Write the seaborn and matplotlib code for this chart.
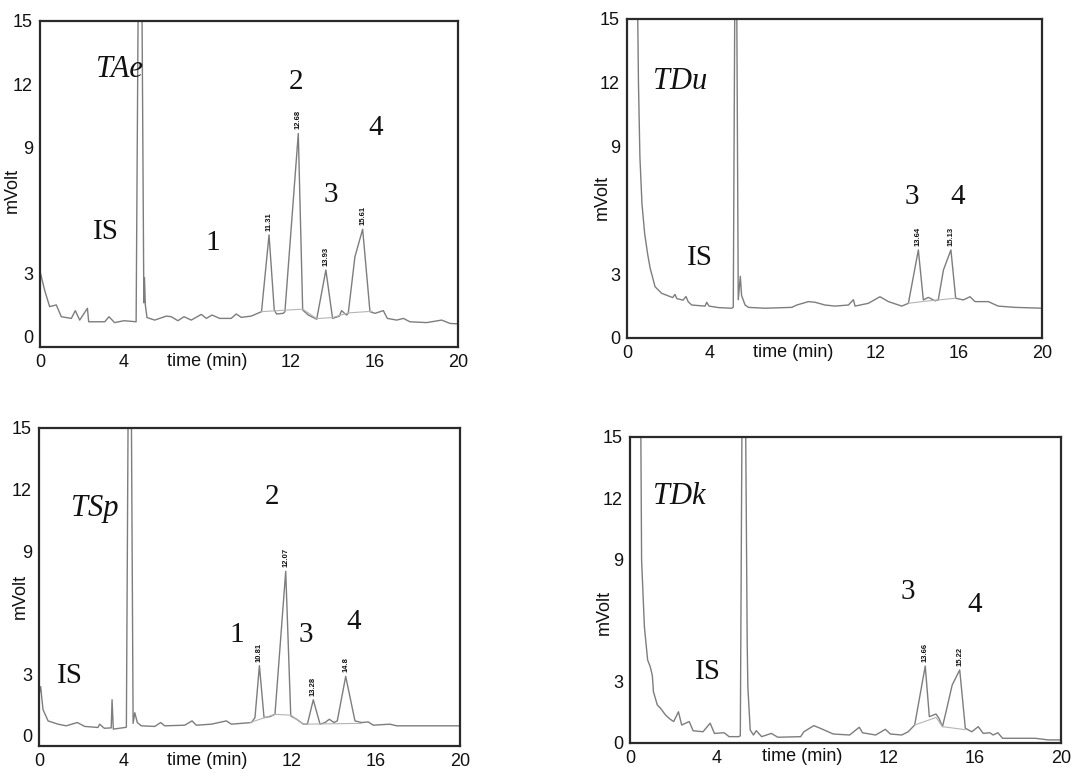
import matplotlib
matplotlib.use("Agg")
import matplotlib.pyplot as plt
import seaborn as sns
import pandas as pd
from matplotlib.ticker import MultipleLocator

# ------------------------------------------------------------------ data
# TAe chromatogram (time in min, signal in mV)
tae_time = [0.00, 0.22, 0.46, 0.78, 1.02, 1.50, 1.69, 1.90, 2.27, 2.33, 3.10, 3.30, 3.57, 4.02,
            4.60, 4.79, 4.97, 5.00, 5.04, 5.12, 5.49, 6.05, 6.28, 6.60, 6.89, 7.24, 7.72, 7.96,
            8.23, 8.60, 9.15, 9.39, 9.63, 10.11, 10.60, 10.96, 11.21, 11.32, 11.64, 11.72, 12.36,
            12.57, 12.84, 13.24, 13.68, 14.00, 14.33, 14.43, 14.67, 14.75, 15.07, 15.44, 15.79,
            16.03, 16.43, 16.62, 17.07, 17.39, 17.70, 18.50, 19.22, 19.62, 20.00]
tae_mv = [3.10, 2.21, 1.42, 1.50, 0.94, 0.86, 1.23, 0.78, 1.34, 0.70, 0.70, 0.94, 0.66, 0.75,
          0.70, 30.0, 1.60, 2.80, 1.50, 0.90, 0.78, 0.97, 0.94, 0.75, 0.94, 0.78, 1.05, 0.86,
          1.02, 0.86, 0.86, 1.07, 0.91, 0.97, 1.18, 4.83, 1.26, 1.07, 1.10, 1.18, 9.65,
          1.26, 1.02, 0.82, 3.16, 0.86, 0.97, 1.23, 1.02, 1.10, 3.79, 5.10, 1.18,
          1.10, 1.23, 0.86, 0.78, 0.86, 0.70, 0.66, 0.78, 0.62, 0.60]
tae_base_time = [10.60, 11.72, 12.57, 13.24, 14.00, 14.75, 15.90]
tae_base_mv = [1.18, 1.25, 1.30, 0.85, 0.90, 1.12, 1.20]
tae_peak_time = [10.96, 12.36, 13.68, 15.44]
tae_peak_mv = [4.83, 9.65, 3.16, 5.10]
tae_peak_rt = ["11.31", "12.68", "13.93", "15.61"]

# TDu chromatogram
tdu_time = [0.40, 0.55, 0.62, 0.72, 0.85, 1.00, 1.11, 1.35, 1.67, 2.20, 2.31, 2.40, 2.70, 2.84,
            2.95, 3.12, 3.76, 3.84, 3.95, 4.40, 5.04, 5.12, 5.24, 5.36, 5.46, 5.52, 5.69, 5.85,
            6.65, 7.94, 8.18, 8.74, 9.06, 9.54, 10.02, 10.67, 10.91, 10.99, 11.63, 12.19, 12.60,
            13.24, 13.56, 14.04, 14.28, 14.52, 14.84, 15.00, 15.25, 15.61, 15.84, 16.21, 16.53,
            16.77, 17.41, 17.89, 18.70, 20.00]
tdu_mv = [25.0, 12.0, 8.5, 6.3, 4.9, 3.9, 3.3, 2.41, 2.10, 1.90, 2.05, 1.85, 1.78, 1.95,
          1.70, 1.55, 1.50, 1.68, 1.50, 1.43, 1.40, 1.45, 25.0, 1.80, 2.90, 2.00, 1.55, 1.44,
          1.40, 1.44, 1.55, 1.71, 1.68, 1.55, 1.50, 1.55, 1.80, 1.50, 1.63, 1.94, 1.71,
          1.50, 1.63, 4.14, 1.79, 1.91, 1.75, 1.79, 3.20, 4.14, 1.87, 1.79, 1.94,
          1.71, 1.71, 1.50, 1.44, 1.40]
tdu_base_time = [13.56, 14.28, 15.00, 15.84]
tdu_base_mv = [1.63, 1.72, 1.79, 1.87]
tdu_peak_time = [14.04, 15.61]
tdu_peak_mv = [4.14, 4.14]
tdu_peak_rt = ["13.64", "15.13"]

# TSp chromatogram
tsp_time = [0.00, 0.08, 0.12, 0.19, 0.43, 0.90, 1.29, 1.82, 2.17, 2.80, 2.88, 3.10, 3.43, 3.47,
            3.53, 4.10, 4.15, 4.31, 4.47, 4.55, 4.67, 4.86, 5.50, 5.78, 5.97, 6.92, 7.27, 7.47,
            8.19, 8.90, 9.14, 10.09, 10.26, 10.47, 10.69, 10.97, 11.21, 11.72, 11.96, 12.24,
            12.56, 12.75, 13.03, 13.35, 13.59, 13.79, 14.01, 14.17, 14.57, 15.01, 15.33, 15.64,
            15.88, 16.67, 16.99, 20.00]
tsp_mv = [2.00, 2.39, 1.95, 1.27, 0.72, 0.56, 0.48, 0.64, 0.45, 0.40, 0.56, 0.36, 0.38, 1.75,
          0.32, 0.40, 0.42, 30.0, 0.60, 1.12, 0.64, 0.48, 0.45, 0.64, 0.48, 0.51, 0.72, 0.51,
          0.56, 0.72, 0.56, 0.64, 0.88, 3.41, 0.88, 0.93, 1.04, 8.01, 0.96, 0.80,
          0.56, 0.56, 1.75, 0.56, 0.64, 0.80, 0.64, 0.72, 2.89, 0.72, 0.64, 0.67,
          0.51, 0.56, 0.48, 0.48]
tsp_base_time = [10.02, 11.21, 11.96, 12.56, 15.33]
tsp_base_mv = [0.64, 1.04, 1.00, 0.56, 0.60]
tsp_peak_time = [10.47, 11.72, 13.03, 14.57]
tsp_peak_mv = [3.41, 8.01, 1.75, 2.89]
tsp_peak_rt = ["10.81", "12.07", "13.28", "14.8"]

# TDk chromatogram
tdk_time = [0.45, 0.54, 0.67, 0.82, 0.94, 1.04, 1.09, 1.27, 1.42, 1.65, 1.87, 2.03, 2.25, 2.40,
            2.75, 2.93, 3.39, 3.72, 3.92, 4.37, 4.60, 5.05, 5.12, 5.27, 5.44, 5.47, 5.58, 5.73,
            5.86, 6.11, 6.56, 6.86, 7.92, 8.07, 8.53, 8.83, 9.43, 10.19, 10.64, 10.79, 11.40,
            11.85, 12.08, 12.61, 12.91, 13.21, 13.70, 13.89, 14.20, 14.34, 14.50, 14.65, 14.95,
            15.30, 15.56, 15.86, 16.16, 16.39, 16.70, 16.85, 17.07, 17.29, 18.80, 19.41, 20.00]
tdk_mv = [25.0, 8.97, 5.70, 4.07, 3.74, 3.30, 2.51, 1.86, 1.70, 1.37, 1.16, 1.05, 1.53, 0.88,
          1.05, 0.60, 0.55, 0.97, 0.47, 0.50, 0.31, 0.31, 0.35, 30.0, 4.90, 2.75, 0.64, 0.39,
          0.60, 0.31, 0.47, 0.28, 0.31, 0.55, 0.85, 0.72, 0.44, 0.39, 0.77, 0.50, 0.39,
          0.67, 0.44, 0.39, 0.55, 0.88, 3.77, 1.29, 1.42, 1.20, 0.80, 1.46, 2.84,
          3.58, 0.72, 0.55, 0.80, 0.47, 0.50, 0.39, 0.50, 0.23, 0.23, 0.15, 0.15]
tdk_base_time = [13.21, 14.20, 14.50, 15.56]
tdk_base_mv = [0.88, 1.25, 0.80, 0.65]
tdk_peak_time = [13.70, 15.30]
tdk_peak_mv = [3.77, 3.58]
tdk_peak_rt = ["13.66", "15.22"]

x_ticks = [0, 4, 12, 16, 20]
x_tick_labels = ["0", "4", "12", "16", "20"]
y_ticks = [0, 3, 9, 12, 15]
y_tick_labels = ["0", "3", "9", "12", "15"]
x_title = "time (min)"
y_title = "mVolt"

# ------------------------------------------------------------------ layout
panels = [
    dict(name="TAe", t=tae_time, v=tae_mv, bt=tae_base_time, bv=tae_base_mv,
         pt=tae_peak_time, pv=tae_peak_mv, prt=tae_peak_rt,
         rect=[0.0372, 0.5534, 0.3888, 0.4196], ylim=(-0.5, 15), ylab=(-0.045, 0.48),
         labels=[("TAe", 3.8, 12.7, True), ("IS", 3.16, 4.97, False), ("1", 8.28, 4.44, False),
                 ("2", 12.25, 12.1, False), ("3", 13.92, 6.73, False), ("4", 16.08, 9.9, False)]),
    dict(name="TDu", t=tdu_time, v=tdu_mv, bt=tdu_base_time, bv=tdu_base_mv,
         pt=tdu_peak_time, pv=tdu_peak_mv, prt=tdu_peak_rt,
         rect=[0.5833, 0.5650, 0.3860, 0.4106], ylim=(0, 15), ylab=(-0.04, 0.44),
         labels=[("TDu", 2.55, 12.04, True), ("IS", 3.5, 3.76, False),
                 ("3", 13.73, 6.63, False), ("4", 15.95, 6.63, False)]),
    dict(name="TSp", t=tsp_time, v=tsp_mv, bt=tsp_base_time, bv=tsp_base_mv,
         pt=tsp_peak_time, pv=tsp_peak_mv, prt=tsp_peak_rt,
         rect=[0.0363, 0.0400, 0.3916, 0.4092], ylim=(-0.5, 15), ylab=(-0.025, 0.47),
         labels=[("TSp", 2.66, 11.05, True), ("IS", 1.47, 2.92, False), ("1", 9.4, 4.92, False),
                 ("2", 11.07, 11.63, False), ("3", 12.68, 4.92, False), ("4", 14.96, 5.54, False)]),
    dict(name="TDk", t=tdk_time, v=tdk_mv, bt=tdk_base_time, bv=tdk_base_mv,
         pt=tdk_peak_time, pv=tdk_peak_mv, prt=tdk_peak_rt,
         rect=[0.5860, 0.0438, 0.4010, 0.3938], ylim=(0, 15), ylab=(-0.04, 0.425),
         labels=[("TDk", 2.3, 12.06, True), ("IS", 3.63, 3.48, False),
                 ("3", 12.9, 7.4, False), ("4", 16.0, 6.76, False)]),
]

sns.set_theme(style="white")
plt.rcParams["font.family"] = ["Liberation Sans", "DejaVu Sans"]

fig = plt.figure(figsize=(10.75, 7.77), dpi=100)
fig.patch.set_facecolor("white")

trace_color = "#7d7d7d"
base_color = "#b5b5b5"
frame_color = "#2a2a2a"

for p in panels:
    ax = fig.add_axes(p["rect"])
    df = pd.DataFrame({"time": p["t"], "mV": p["v"]})
    sns.lineplot(data=df, x="time", y="mV", ax=ax, sort=False, estimator=None,
                 color=trace_color, linewidth=1.0)
    bdf = pd.DataFrame({"time": p["bt"], "mV": p["bv"]})
    sns.lineplot(data=bdf, x="time", y="mV", ax=ax, sort=False, estimator=None,
                 color=base_color, linewidth=0.8)

    ax.set_xlim(0, 20)
    ax.set_ylim(*p["ylim"])
    ax.set_xticks(x_ticks)
    ax.set_xticklabels(x_tick_labels)
    ax.set_yticks(y_ticks)
    ax.set_yticklabels(y_tick_labels)
    ax.xaxis.set_minor_locator(MultipleLocator(2))
    ax.yaxis.set_minor_locator(MultipleLocator(1.5))
    ax.tick_params(axis="both", which="major", labelsize=13, length=3, width=1,
                   color=frame_color, labelcolor="#111111", direction="out")
    ax.tick_params(axis="x", which="major", pad=2)
    ax.tick_params(axis="y", which="major", pad=2)
    ax.tick_params(axis="both", which="minor", length=3, width=0.8,
                   color="#888888", direction="in")
    ax.set_xlabel(x_title, fontsize=13, color="#111111")
    ax.xaxis.set_label_coords(0.4, -0.018)
    ax.set_ylabel(y_title, fontsize=13, color="#111111")
    ax.yaxis.set_label_coords(p["ylab"][0], p["ylab"][1])
    for s in ax.spines.values():
        s.set_visible(True)
        s.set_color(frame_color)
        s.set_linewidth(1.6)
    ax.set_facecolor("white")

    for txt, tx, ty, italic in p["labels"]:
        ax.text(tx, ty, txt, ha="center", va="center",
                fontsize=22 if italic else 21,
                fontstyle="italic" if italic else "normal",
                family=["Liberation Serif", "DejaVu Serif"], color="#111111")

    for tx, ty, rt in zip(p["pt"], p["pv"], p["prt"]):
        ax.annotate(rt, xy=(tx, ty), xytext=(0, 3), textcoords="offset points",
                    rotation=90, ha="center", va="bottom", fontsize=5.5,
                    fontweight="bold", color="#111111")

fig.savefig("out.png", dpi=100, facecolor="white")
